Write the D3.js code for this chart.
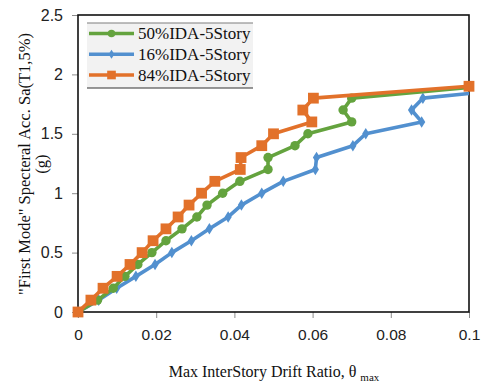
<!DOCTYPE html>
<html>
<head>
<meta charset="utf-8">
<script src="https://cdn.jsdelivr.net/npm/d3@7"></script>
<style>
  html, body { margin: 0; padding: 0; background: #fff; }
  svg { display: block; }
</style>
</head>
<body>
<svg id="chart" width="485" height="385"></svg>
<script>
// Spectral acceleration levels (g) at each IDA step
const sa50 = [0,0.1,0.2,0.3,0.4,0.5,0.6,0.7,0.8,0.9,1.0,1.1,1.2,1.3,1.4,1.5,1.6,1.7,1.8,1.9];
const sa16 = [0,0.1,0.2,0.3,0.4,0.5,0.6,0.7,0.8,0.9,1.0,1.1,1.2,1.3,1.4,1.5,1.6,1.7,1.8,1.9];
const sa84 = [0,0.1,0.2,0.3,0.4,0.5,0.6,0.7,0.8,0.9,1.0,1.1,1.2,1.3,1.4,1.5,1.6,1.7,1.8,1.9];

// Max interstory drift ratio for each fractile curve
const drift50 = [0,0.005,0.009,0.012,0.0153,0.0189,0.0225,0.0266,0.0304,0.033,0.037,0.0414,0.0486,0.0486,0.0555,0.0588,0.070,0.0678,0.070,0.103];
const drift16 = [0,0.0053,0.0099,0.0148,0.0197,0.024,0.029,0.0336,0.0384,0.0418,0.047,0.0525,0.0607,0.061,0.0703,0.0736,0.0879,0.0853,0.0882,0.118];
const drift84 = [0,0.0033,0.0064,0.010,0.0133,0.0164,0.0192,0.0225,0.0256,0.0284,0.0316,0.035,0.0415,0.0417,0.047,0.050,0.0598,0.0575,0.0602,0.1];

const seriesNames = ["50%IDA-5Story", "16%IDA-5Story", "84%IDA-5Story"];
const seriesColors = ["#64a33e", "#5290cf", "#e2712a"];
const xTicks = [0, 0.02, 0.04, 0.06, 0.08, 0.1];
const yTicks = [0, 0.5, 1, 1.5, 2, 2.5];

const series = [
  { name: seriesNames[0], color: seriesColors[0], marker: "circle",  pts: drift50.map((d, i) => [d, sa50[i]]) },
  { name: seriesNames[1], color: seriesColors[1], marker: "diamond", pts: drift16.map((d, i) => [d, sa16[i]]) },
  { name: seriesNames[2], color: seriesColors[2], marker: "square",  pts: drift84.map((d, i) => [d, sa84[i]]) }
];

const svg = d3.select("#chart");
const plot = { left: 78, right: 469, top: 15, bottom: 312 };

const x = d3.scaleLinear().domain([0, 0.1]).range([plot.left, plot.right]);
const y = d3.scaleLinear().domain([0, 2.5]).range([plot.bottom, plot.top]);

svg.append("defs").append("clipPath").attr("id", "plotClip")
  .append("rect")
  .attr("x", plot.left).attr("y", plot.top)
  .attr("width", plot.right - plot.left).attr("height", plot.bottom - plot.top);

// Axes (gray outward ticks, labels)
const xAxis = d3.axisBottom(x).tickValues(xTicks).tickSize(6).tickPadding(11)
  .tickFormat(d => d === 0 ? "0" : d3.format("")(+d.toFixed(2)));
const gx = svg.append("g").attr("transform", `translate(0,${plot.bottom})`).call(xAxis);
gx.select(".domain").remove();
gx.selectAll("line").attr("stroke", "#8c8c8c");
gx.selectAll("text").attr("font-family", "'Liberation Sans', Arial, sans-serif")
  .attr("font-size", "15.5px").attr("fill", "#222");

const yAxis = d3.axisLeft(y).tickValues(yTicks).tickSize(6).tickPadding(9)
  .tickFormat(d => String(d));
const gy = svg.append("g").attr("transform", `translate(${plot.left},0)`).call(yAxis);
gy.select(".domain").remove();
gy.selectAll("line").attr("stroke", "#8c8c8c");
gy.selectAll("text").attr("font-family", "'Liberation Sans', Arial, sans-serif")
  .attr("font-size", "16px").attr("fill", "#222");

// Plot frame
svg.append("rect")
  .attr("x", plot.left).attr("y", plot.top)
  .attr("width", plot.right - plot.left).attr("height", plot.bottom - plot.top)
  .attr("fill", "none").attr("stroke", "#111").attr("stroke-width", 1.6);

// Marker shapes
function markerPath(kind, s) {
  if (kind === "circle") return d3.symbol(d3.symbolCircle, Math.PI * s * s)();
  if (kind === "square") return `M${-s},${-s}H${s}V${s}H${-s}Z`;
  // narrow diamond
  return `M0,${-s * 1.2}L${s * 0.75},0L0,${s * 1.2}L${-s * 0.75},0Z`;
}
const markerSize = { circle: 4.7, square: 5.4, diamond: 4.8 };

const line = d3.line().x(d => x(d[0])).y(d => y(d[1]));

// Draw the 16% curve first, then 50%, then 84% on top
const drawOrder = [series[1], series[0], series[2]];
drawOrder.forEach(s => {
  const g = svg.append("g");
  g.append("path")
    .attr("d", line(s.pts))
    .attr("clip-path", "url(#plotClip)")
    .attr("fill", "none")
    .attr("stroke", s.color)
    .attr("stroke-width", 3.6)
    .attr("stroke-linejoin", "round");
  g.selectAll("path.mk")
    .data(s.pts.filter(p => p[0] <= 0.1 + 1e-9))
    .join("path")
    .attr("class", "mk")
    .attr("transform", d => `translate(${x(d[0])},${y(d[1])})`)
    .attr("d", markerPath(s.marker, markerSize[s.marker]))
    .attr("fill", s.color);
});

// Legend
const legend = svg.append("g");
const lg = { x0: 87, x1: 253, y0: 23, y1: 88 };
legend.append("rect")
  .attr("x", lg.x0).attr("y", lg.y0)
  .attr("width", lg.x1 - lg.x0).attr("height", lg.y1 - lg.y0)
  .attr("fill", "#f2f2f2");
legend.append("line").attr("x1", lg.x0).attr("x2", lg.x1).attr("y1", lg.y0).attr("y2", lg.y0)
  .attr("stroke", "#7f7f7f").attr("stroke-width", 1.2);
legend.append("line").attr("x1", lg.x0).attr("x2", lg.x1).attr("y1", lg.y1).attr("y2", lg.y1)
  .attr("stroke", "#333").attr("stroke-width", 1.2);

const rowY = d3.scalePoint().domain(seriesNames).range([33.5, 75]);
series.forEach(s => {
  const yy = rowY(s.name);
  legend.append("line")
    .attr("x1", 89).attr("x2", 134).attr("y1", yy).attr("y2", yy)
    .attr("stroke", s.color).attr("stroke-width", 3.6);
  legend.append("path")
    .attr("transform", `translate(111.5,${yy})`)
    .attr("d", markerPath(s.marker, markerSize[s.marker] * 0.8))
    .attr("fill", s.color);
  legend.append("text")
    .attr("x", 138).attr("y", yy)
    .attr("dominant-baseline", "central")
    .attr("font-family", "'Liberation Serif', 'Times New Roman', serif")
    .attr("font-size", "17px").attr("fill", "#111")
    .text(s.name);
});

// Axis titles
const xt = svg.append("text")
  .attr("x", 274).attr("y", 377)
  .attr("text-anchor", "middle")
  .attr("font-family", "'Liberation Serif', 'Times New Roman', serif")
  .attr("font-size", "16px").attr("fill", "#111");
xt.append("tspan").text("Max InterStory Drift Ratio, θ ");
xt.append("tspan").attr("font-size", "11px").attr("dy", 4).text("max");

const yt = svg.append("text")
  .attr("transform", "translate(24,164) rotate(-90)")
  .attr("text-anchor", "middle")
  .attr("font-family", "'Liberation Serif', 'Times New Roman', serif")
  .attr("font-size", "16.5px").attr("fill", "#111");
yt.append("tspan").attr("x", 0).attr("y", 0).attr("dominant-baseline", "central")
  .text("\"First Mode\" Specteral Acc. Sa(T1,5%)");
yt.append("tspan").attr("x", 0).attr("y", 17).attr("dominant-baseline", "central")
  .text("(g)");
</script>
</body>
</html>
